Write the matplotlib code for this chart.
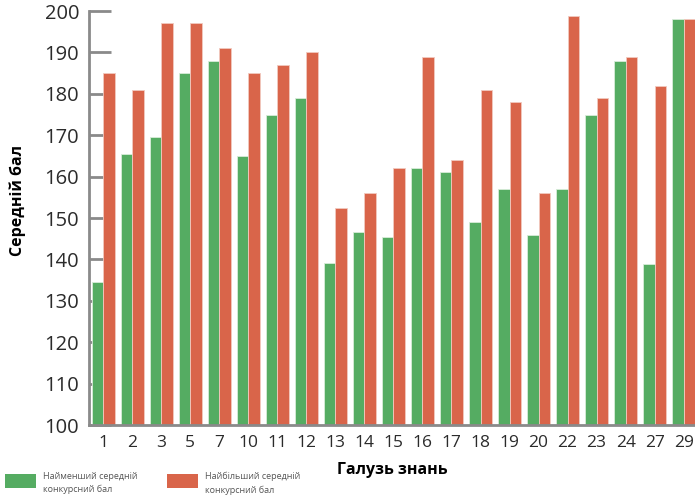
import matplotlib
matplotlib.use("Agg")
import matplotlib.pyplot as plt
import numpy as np
from matplotlib.patches import Rectangle

plt.rcParams['font.family'] = ['Open Sans', 'DejaVu Sans']

fields = ['1', '2', '3', '5', '7', '10', '11', '12', '13', '14', '15',
          '16', '17', '18', '19', '20', '22', '23', '24', '27', '29']
min_score = [134.5, 165.5, 169.5, 185, 188, 165, 175, 179, 139.2, 146.5, 145.5,
             162, 161, 149, 157, 146, 157, 175, 188, 139, 198]
max_score = [185, 181, 197, 197, 191, 185, 187, 190, 152.5, 156, 162,
             189, 164, 181, 178, 156, 198.8, 179, 189, 182, 198]
label_min = 'Найменший середній\nконкурсний бал'
label_max = 'Найбільший середній\nконкурсний бал'

GREEN = '#55AC62'
RED = '#D9654A'
AXIS = '#8a8a8a'
TEXT = '#2b2b2b'

fig = plt.figure(figsize=(6.95, 4.98), dpi=100)
ax = fig.add_axes([89 / 695, 1 - 425 / 498, 1 - 89 / 695, (425 - 11) / 498])

x = np.arange(len(fields))
w = 0.39
ax.bar(x - w / 2, min_score, width=w, color=GREEN, edgecolor='#d8ecd9',
       linewidth=0.6, bottom=0, zorder=2)
ax.bar(x + w / 2, max_score, width=w, color=RED, edgecolor='#f2c9bf',
       linewidth=0.6, bottom=0, zorder=2)

ax.set_ylim(100, 200)
ax.set_xlim(-0.49, 20.39)
ax.set_yticks(np.arange(100, 201, 10))
ax.set_xticks(x)
ax.set_xticklabels(fields)

for side in ('top', 'right'):
    ax.spines[side].set_visible(False)
for side in ('left', 'bottom'):
    ax.spines[side].set_color(AXIS)
    ax.spines[side].set_linewidth(2)
    ax.spines[side].set_zorder(3)

ax.tick_params(axis='y', direction='in', length=16, width=2, color=AXIS,
               labelsize=14.5, labelcolor=TEXT, pad=7)
ax.tick_params(axis='x', length=0, labelsize=12.5, labelcolor=TEXT, pad=7)

ax.set_xlabel('Галузь знань', fontsize=11.5, fontweight='bold', color='black',
              labelpad=8)
fig.text(18 / 695, 1 - 200 / 498, 'Середній бал', rotation=90, ha='center',
         va='center', fontsize=11.5, fontweight='bold', color='black')

# legend drawn as patches with captions under the plot
for x0, color, label in ((5, GREEN, label_min), (167, RED, label_max)):
    fig.patches.append(Rectangle((x0 / 695, 1 - 488 / 498), 31 / 695, 14 / 498,
                                 transform=fig.transFigure, facecolor=color,
                                 edgecolor='none'))
    fig.text((x0 + 38) / 695, 1 - 483 / 498, label, ha='left', va='center',
             fontsize=6.5, color='#555555', linespacing=1.6)

fig.savefig('out.png', dpi=100)
